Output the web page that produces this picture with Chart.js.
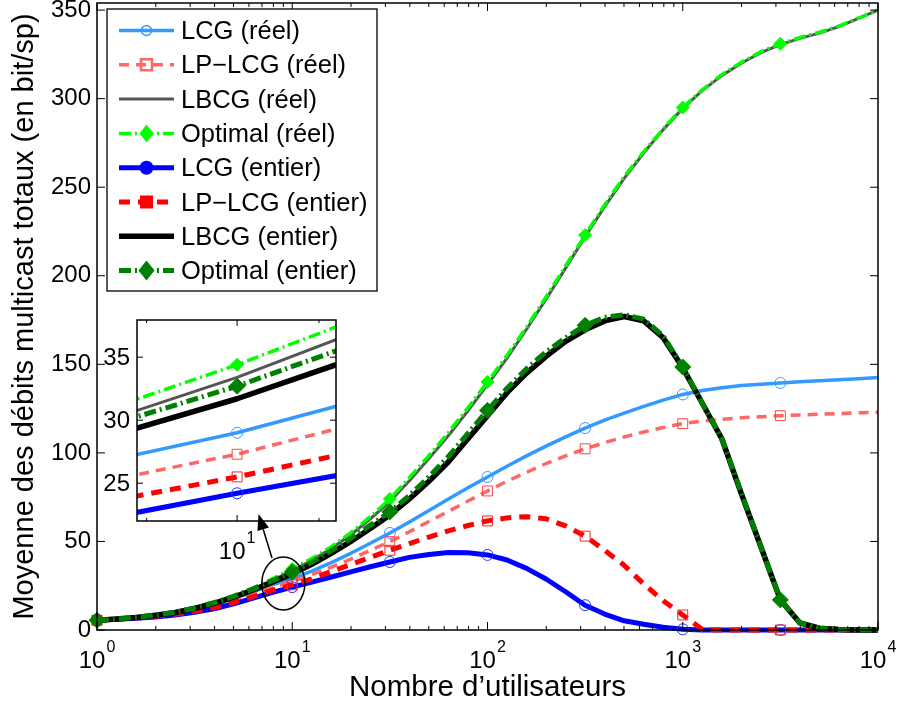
<!DOCTYPE html>
<html>
<head>
<meta charset="utf-8">
<script src="https://cdn.jsdelivr.net/npm/chart.js@4/dist/chart.umd.min.js"></script>
<style>
  body { margin: 0; background: #fff; }
  #wrap { position: relative; width: 898px; height: 706px; }
  #main { position: absolute; left: 0; top: 0; }
  #zoom { position: absolute; left: 90px; top: 315px; }
</style>
</head>
<body>
<div id="wrap">
  <canvas id="main" width="898" height="706"></canvas>
  <canvas id="zoom" width="260" height="260"></canvas>
</div>
<script>
const FONT = '"Liberation Sans", Arial, sans-serif';

// number of users (x), 10 points per decade
const users = [1, 1.259, 1.585, 1.995, 2.512, 3.162, 3.981, 5.012, 6.31, 7.943,
  10, 12.59, 15.85, 19.95, 25.12, 31.62, 39.81, 50.12, 63.1, 79.43,
  100, 125.9, 158.5, 199.5, 251.2, 316.2, 398.1, 501.2, 631, 794.3,
  1000, 1259, 1585, 1995, 2512, 3162, 3981, 5012, 6310, 7943, 10000];

const lcgReel = [5.5, 6.2, 7.0, 8.2, 9.8, 11.8, 14.5, 17.8, 21.6, 25.6,
  29.0, 33.2, 38.0, 43.3, 49.0, 54.8, 61.0, 67.5, 74.0, 80.3,
  86.4, 92.5, 98.3, 103.8, 109.0, 114.0, 118.5, 122.5, 126.3, 129.8,
  133.0, 135.2, 136.8, 138.0, 138.8, 139.5, 140.1, 140.7, 141.3, 141.9, 142.5];
const lplcgReel = [5.5, 6.1, 6.9, 8.0, 9.5, 11.5, 14.0, 17.0, 20.5, 24.1,
  27.3, 31.3, 35.5, 40.0, 45.0, 49.9, 55.5, 61.3, 67.0, 72.8,
  78.5, 84.0, 89.0, 94.0, 98.3, 102.3, 105.8, 109.0, 111.8, 114.3,
  116.5, 118.0, 119.0, 119.8, 120.4, 121.0, 121.4, 121.8, 122.2, 122.6, 123.0];
const lbcgReel = [5.5, 6.3, 7.2, 8.5, 10.1, 12.3, 15.1, 18.7, 23.1, 28.2,
  33.4, 39.4, 46.0, 53.8, 62.7, 72.5, 84.3, 96.8, 109.8, 123.8,
  138.5, 153.5, 169.8, 186.8, 204.3, 222.0, 239.0, 255.0, 269.3, 282.5,
  294.5, 304.5, 313.0, 320.0, 326.0, 330.5, 334.0, 337.0, 340.7, 345.3, 350.0];
const optReel = [5.5, 6.3, 7.3, 8.6, 10.3, 12.6, 15.5, 19.2, 23.8, 29.0,
  34.4, 40.4, 47.0, 55.0, 64.0, 74.0, 86.0, 98.5, 111.5, 125.5,
  140.0, 155.0, 171.0, 188.0, 205.5, 223.0, 240.0, 256.0, 270.0, 283.0,
  295.0, 305.0, 313.5, 320.5, 326.5, 331.0, 334.5, 337.5, 341.0, 345.5, 350.0];
const lcgEntier = [5.5, 6.0, 6.6, 7.4, 8.5, 10.0, 12.0, 14.8, 18.0, 21.2,
  24.2, 27.0, 29.9, 32.8, 35.7, 38.4, 41.0, 42.6, 43.8, 43.6,
  42.4, 39.5, 34.8, 28.8, 21.6, 14.0, 9.0, 5.2, 3.2, 1.6,
  0.4, 0, 0, 0, 0, 0, 0, 0, 0, 0, 0];
const lplcgEntier = [5.5, 6.1, 6.8, 7.7, 8.9, 10.5, 12.6, 15.4, 18.8, 22.5,
  25.5, 28.9, 33.0, 37.0, 41.0, 45.0, 48.8, 52.5, 56.0, 59.0,
  61.6, 63.3, 64.0, 62.8, 58.8, 53.0, 45.0, 36.5, 26.0, 16.5,
  8.5, 0.3, 0, 0, 0, 0, 0, 0, 0, 0, 0];
const lbcgEntier = [5.5, 6.2, 7.1, 8.3, 9.9, 12.2, 15.1, 18.6, 22.6, 27.1,
  31.7, 37.1, 43.3, 50.0, 57.3, 65.0, 74.0, 84.0, 95.0, 108.0,
  121.0, 134.0, 145.0, 154.5, 163.0, 169.5, 174.5, 177.0, 174.5, 165.0,
  148.0, 128.0, 108.0, 77.0, 47.0, 17.0, 4.0, 1.0, 0.3, 0, 0];
const optEntier = [5.5, 6.2, 7.2, 8.4, 10.0, 12.4, 15.4, 19.0, 23.2, 27.9,
  32.7, 38.3, 44.8, 51.8, 59.2, 66.7, 76.0, 86.5, 98.0, 111.0,
  124.0, 136.5, 147.5, 157.0, 165.0, 172.0, 176.5, 178.0, 175.5, 166.0,
  148.5, 128.0, 108.0, 77.5, 47.0, 17.0, 4.0, 1.0, 0.3, 0, 0];

// indices of users[] that carry a marker
const markerIdx = [0, 10, 15, 20, 25, 30, 35];

const xTicks = [1, 10, 100, 1000, 10000];
const xTickExp = ['0', '1', '2', '3', '4'];
const insetYTicks = [25, 30, 35];
const insetXTicks = [9, 10, 11];

function makeDatasets(clip) {
  const pts = arr => users.map((u, i) => ({ x: u, y: arr[i] }));
  const mark = r => c => (markerIdx.includes(c.dataIndex) ? r : 0);
  const base = { fill: false, tension: 0, clip: clip, borderCapStyle: 'butt', borderJoinStyle: 'round' };
  return [
    { ...base, label: 'LCG (réel)', data: pts(lcgReel), borderColor: '#3399ff', borderWidth: 3.5,
      pointStyle: 'circle', pointRadius: mark(5.5), pointBorderWidth: 1, pointBorderColor: '#3399ff',
      pointBackgroundColor: 'rgba(0,0,0,0)', order: 8, legendMark: { shape: 'circle', r: 5, fill: false } },
    { ...base, label: 'LP\u2212LCG (réel)', data: pts(lplcgReel), borderColor: '#ff6666', borderWidth: 3.5,
      borderDash: [10, 7], pointStyle: 'rect', pointRadius: mark(7), pointBorderWidth: 1, pointBorderColor: '#ff4444',
      pointBackgroundColor: 'rgba(0,0,0,0)', order: 7, legendMark: { shape: 'square', r: 5.5, fill: false } },
    { ...base, label: 'LBCG (réel)', data: pts(lbcgReel), borderColor: '#555555', borderWidth: 3,
      pointRadius: 0, order: 6 },
    { ...base, label: 'Optimal (réel)', data: pts(optReel), borderColor: '#00ff00', borderWidth: 3.5,
      borderDash: [12, 4, 2, 4], pointStyle: 'rectRot', pointRadius: mark(6.5), pointBorderWidth: 1,
      pointBorderColor: '#00ff00', pointBackgroundColor: '#00ff00', order: 5,
      legendMark: { shape: 'diamond', w: 7, h: 9, fill: true } },
    { ...base, label: 'LCG (entier)', data: pts(lcgEntier), borderColor: '#0000ff', borderWidth: 5,
      pointStyle: 'circle', pointRadius: mark(5.5), pointBorderWidth: 1, pointBorderColor: '#2233ff',
      pointBackgroundColor: 'rgba(0,0,0,0)', order: 4, legendMark: { shape: 'circle', r: 7, fill: true } },
    { ...base, label: 'LP\u2212LCG (entier)', data: pts(lplcgEntier), borderColor: '#ff0000', borderWidth: 5,
      borderDash: [11, 8], pointStyle: 'rect', pointRadius: mark(7), pointBorderWidth: 1, pointBorderColor: '#ff2222',
      pointBackgroundColor: 'rgba(0,0,0,0)', order: 3, legendMark: { shape: 'square', r: 6.5, fill: true } },
    { ...base, label: 'LBCG (entier)', data: pts(lbcgEntier), borderColor: '#000000', borderWidth: 5.5,
      pointRadius: 0, order: 2 },
    { ...base, label: 'Optimal (entier)', data: pts(optEntier), borderColor: '#008000', borderWidth: 5,
      borderDash: [12, 4, 2, 4], pointStyle: 'rectRot', pointRadius: mark(8), pointBorderWidth: 1,
      pointBorderColor: '#008000', pointBackgroundColor: '#008000', order: 1,
      legendMark: { shape: 'diamond', w: 8, h: 10, fill: true } }
  ];
}

function drawPow(ctx, x, axisY, exp) {
  ctx.save();
  ctx.fillStyle = '#000';
  ctx.textAlign = 'left';
  ctx.textBaseline = 'alphabetic';
  ctx.font = '24px ' + FONT;
  const w1 = ctx.measureText('10').width;
  ctx.font = '16px ' + FONT;
  const w2 = ctx.measureText(exp).width;
  const x0 = x - (w1 + 1 + w2) / 2;
  ctx.font = '24px ' + FONT;
  ctx.fillText('10', x0, axisY + 38);
  ctx.font = '16px ' + FONT;
  ctx.fillText(exp, x0 + w1 + 1, axisY + 22);
  ctx.restore();
}

function line(ctx, x1, y1, x2, y2) {
  ctx.beginPath();
  ctx.moveTo(x1, y1);
  ctx.lineTo(x2, y2);
  ctx.stroke();
}

function drawMark(ctx, m, x, y, color) {
  ctx.save();
  ctx.setLineDash([]);
  ctx.beginPath();
  if (m.shape === 'circle') ctx.arc(x, y, m.r, 0, 2 * Math.PI);
  else if (m.shape === 'square') ctx.rect(x - m.r, y - m.r, 2 * m.r, 2 * m.r);
  else {
    ctx.moveTo(x, y - m.h); ctx.lineTo(x + m.w, y);
    ctx.lineTo(x, y + m.h); ctx.lineTo(x - m.w, y); ctx.closePath();
  }
  if (m.fill) { ctx.fillStyle = color; ctx.fill(); }
  else { ctx.lineWidth = m.shape === 'square' ? 2.5 : 1.5; ctx.strokeStyle = color; ctx.stroke(); }
  ctx.restore();
}

const mainDeco = {
  id: 'mainDeco',
  afterDatasetsDraw(chart) {
    const { ctx, scales: { x, y } } = chart;
    // ellipse around the zoomed zone
    ctx.save();
    ctx.strokeStyle = '#000';
    ctx.lineWidth = 1.5;
    ctx.beginPath();
    ctx.ellipse(x.getPixelForValue(9.0), y.getPixelForValue(26.3), 21.5, 26.5, 0, 0, 2 * Math.PI);
    ctx.stroke();
    ctx.restore();
  },
  afterDraw(chart) {
    const { ctx, chartArea: a, scales: { x, y } } = chart;
    ctx.save();
    ctx.strokeStyle = '#000';
    ctx.lineWidth = 1;
    xTicks.forEach((d, k) => {
      const px = x.getPixelForValue(d);
      line(ctx, px, a.bottom, px, a.bottom - 8);
      line(ctx, px, a.top, px, a.top + 8);
      drawPow(ctx, px, a.bottom, xTickExp[k]);
      if (k < xTicks.length - 1) {
        for (let m = 2; m <= 9; m++) {
          const p = x.getPixelForValue(d * m);
          line(ctx, p, a.bottom, p, a.bottom - 4);
          line(ctx, p, a.top, p, a.top + 4);
        }
      }
    });
    y.ticks.forEach(t => {
      const py = y.getPixelForValue(t.value);
      line(ctx, a.left, py, a.left + 8, py);
      line(ctx, a.right, py, a.right - 8, py);
    });
    ctx.lineWidth = 1.5;
    ctx.strokeRect(a.left, a.top, a.right - a.left, a.bottom - a.top);

    // legend
    const lg = { left: a.left + 10, top: a.top + 6, width: 270, height: 282 };
    ctx.fillStyle = '#fff';
    ctx.fillRect(lg.left, lg.top, lg.width, lg.height);
    ctx.lineWidth = 1.3;
    ctx.strokeRect(lg.left, lg.top, lg.width, lg.height);
    chart.data.datasets.forEach((ds, i) => {
      const cy = lg.top + 21.5 + i * 34.3;
      ctx.save();
      ctx.beginPath();
      ctx.setLineDash(ds.borderDash || []);
      ctx.lineWidth = ds.borderWidth;
      ctx.strokeStyle = ds.borderColor;
      ctx.moveTo(lg.left + 12, cy);
      ctx.lineTo(lg.left + 67, cy);
      ctx.stroke();
      ctx.restore();
      if (ds.legendMark) drawMark(ctx, ds.legendMark, lg.left + 39.5, cy, ds.borderColor);
      ctx.fillStyle = '#000';
      ctx.font = '25.5px ' + FONT;
      ctx.textAlign = 'left';
      ctx.textBaseline = 'middle';
      ctx.fillText(ds.label, lg.left + 74, cy + 1.5);
    });
    ctx.restore();
  }
};

new Chart(document.getElementById('main'), {
  type: 'line',
  data: { datasets: makeDatasets(false) },
  options: {
    responsive: false,
    animation: false,
    layout: { autoPadding: false, padding: { left: 0, top: 3, right: 20, bottom: 0 } },
    plugins: { legend: { display: false }, tooltip: { enabled: false } },
    scales: {
      x: {
        type: 'logarithmic',
        min: 1,
        max: 10000,
        grid: { display: false, drawTicks: false },
        border: { display: false },
        ticks: { display: false },
        title: {
          display: true,
          text: 'Nombre d\u2019utilisateurs',
          color: '#000',
          font: { family: FONT, size: 29.5 },
          padding: { top: 0, bottom: 0.5 }
        },
        afterFit: s => { s.height = 76; s.paddingLeft = 0; s.paddingRight = 0; }
      },
      y: {
        min: 0,
        max: 354,
        grid: { display: false, drawTicks: false },
        border: { display: false },
        ticks: { stepSize: 50, includeBounds: false, color: '#000', padding: 6,
          font: { family: FONT, size: 24 } },
        title: {
          display: true,
          text: 'Moyenne des débits multicast totaux (en bit/sp)',
          color: '#000',
          font: { family: FONT, size: 29 },
          padding: { top: 7.3, bottom: 0 }
        },
        afterFit: s => { s.width = 97; s.paddingTop = 0; s.paddingBottom = 0; }
      }
    }
  },
  plugins: [mainDeco]
});

const insetDeco = {
  id: 'insetDeco',
  beforeDatasetsDraw(chart) {
    const { ctx, chartArea: a } = chart;
    ctx.save();
    ctx.fillStyle = '#fff';
    ctx.fillRect(a.left, a.top, a.right - a.left, a.bottom - a.top);
    ctx.restore();
  },
  afterDraw(chart) {
    const { ctx, chartArea: a, scales: { x, y } } = chart;
    ctx.save();
    ctx.strokeStyle = '#000';
    ctx.lineWidth = 1;
    ctx.fillStyle = '#000';
    ctx.font = '24px ' + FONT;
    ctx.textAlign = 'right';
    ctx.textBaseline = 'middle';
    insetYTicks.forEach(v => {
      const py = y.getPixelForValue(v);
      line(ctx, a.left, py, a.left + 6, py);
      line(ctx, a.right, py, a.right - 6, py);
      ctx.fillText(String(v), a.left - 7, py + 1);
    });
    insetXTicks.forEach(v => {
      const px = x.getPixelForValue(v);
      const len = v === 10 ? 6 : 3;
      line(ctx, px, a.bottom, px, a.bottom - len);
      line(ctx, px, a.top, px, a.top + len);
    });
    drawPow(ctx, x.getPixelForValue(10), a.bottom, '1');
    ctx.lineWidth = 1.5;
    ctx.strokeRect(a.left, a.top, a.right - a.left, a.bottom - a.top);

    // arrow from the ellipse to the zoom box
    const tail = { x: a.left + 135, y: a.bottom + 37 };
    const tip = { x: a.left + 121.5, y: a.bottom - 7 };
    const ang = Math.atan2(tip.y - tail.y, tip.x - tail.x);
    const hl = 16, hw = 6;
    const bx = tip.x - hl * Math.cos(ang), by = tip.y - hl * Math.sin(ang);
    line(ctx, tail.x, tail.y, bx, by);
    ctx.beginPath();
    ctx.moveTo(tip.x, tip.y);
    ctx.lineTo(bx + hw * Math.sin(ang), by - hw * Math.cos(ang));
    ctx.lineTo(bx - hw * Math.sin(ang), by + hw * Math.cos(ang));
    ctx.closePath();
    ctx.fill();
    ctx.restore();
  }
};

new Chart(document.getElementById('zoom'), {
  type: 'line',
  data: { datasets: makeDatasets(0) },
  options: {
    responsive: false,
    animation: false,
    layout: { autoPadding: false, padding: { left: 47, top: 5, right: 14, bottom: 54 } },
    plugins: { legend: { display: false }, tooltip: { enabled: false } },
    scales: {
      x: { type: 'logarithmic', min: 8.913, max: 11.22, display: false },
      y: { min: 22, max: 37.95, display: false }
    }
  },
  plugins: [insetDeco]
});
</script>
</body>
</html>
